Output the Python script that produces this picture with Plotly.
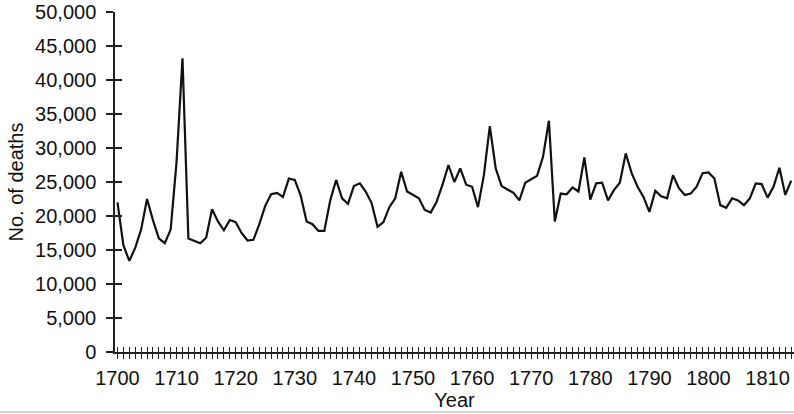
import plotly.graph_objects as go

years = list(range(1700, 1815))
deaths = [
    22000, 15700, 13400, 15300, 18000, 22500, 19400, 16700, 16000, 18000,  # 1700-1709
    28000, 43200, 16700, 16300, 16000, 16800, 21000, 19200, 17900, 19400,  # 1710-1719
    19100, 17500, 16400, 16500, 18800, 21500, 23200, 23400, 22800, 25500,  # 1720-1729
    25300, 23000, 19200, 18800, 17800, 17800, 22300, 25300, 22600, 21800,  # 1730-1739
    24400, 24800, 23600, 21900, 18400, 19100, 21300, 22600, 26500, 23600,  # 1740-1749
    23100, 22600, 20900, 20500, 22100, 24600, 27500, 25000, 27000, 24600,  # 1750-1759
    24300, 21300, 26000, 33200, 27000, 24400, 23900, 23400, 22300, 24900,  # 1760-1769
    25400, 25900, 28700, 34000, 19200, 23300, 23200, 24200, 23600, 28600,  # 1770-1779
    22400, 24800, 24900, 22300, 23800, 24900, 29200, 26300, 24300, 22800,  # 1780-1789
    20600, 23700, 22900, 22600, 26000, 24100, 23100, 23300, 24300, 26300,  # 1790-1799
    26400, 25500, 21600, 21200, 22600, 22300, 21600, 22600, 24800, 24700,  # 1800-1809
    22700, 24300, 27100, 23100, 25200,                                      # 1810-1814
]
x_tick_labels = [str(y) if y % 10 == 0 else "" for y in years]
y_ticks = list(range(0, 50001, 5000))

FONT = "Liberation Sans, Arial, Helvetica, sans-serif"
AX = "#222222"
xr = [1699.58, 1814.47]
yr = [0, 50000]

fig = go.Figure()
fig.add_trace(go.Scatter(x=years, y=deaths, mode="lines",
                         line=dict(color="#111111", width=2.2), showlegend=False,
                         hoverinfo="x+y"))
# invisible trace so the overlay axes (inner halves of the crossing ticks) exist
fig.add_trace(go.Scatter(x=years, y=deaths, xaxis="x2", yaxis="y2", mode="lines",
                         line=dict(width=0, color="rgba(0,0,0,0)"), showlegend=False,
                         hoverinfo="skip"))

fig.update_layout(
    width=794, height=414,
    margin=dict(l=115, r=0, t=12, b=62, autoexpand=False),
    paper_bgcolor="white", plot_bgcolor="white",
    font=dict(family=FONT, size=20, color="#111111"),
    xaxis=dict(range=xr, tickmode="array", tickvals=years, ticktext=x_tick_labels,
               ticks="outside", ticklen=5, tickwidth=1.3, tickcolor=AX,
               showline=True, linecolor=AX, linewidth=1.5, showgrid=False, zeroline=False,
               automargin=False,
               title=dict(text="Year", standoff=0, font=dict(size=20)),
               tickfont=dict(size=20), ticklabelstandoff=2),
    yaxis=dict(range=yr, tickmode="array", tickvals=y_ticks, tickformat=",d",
               ticks="outside", ticklen=7, tickwidth=1.5, tickcolor=AX,
               showline=True, linecolor=AX, linewidth=1.5, showgrid=False, zeroline=False,
               automargin=False,
               title=dict(text="No. of deaths", standoff=6, font=dict(size=20)),
               tickfont=dict(size=20), ticklabelstandoff=6),
    xaxis2=dict(range=xr, overlaying="x", anchor="y2", side="bottom",
                tickmode="array", tickvals=years, ticks="inside", ticklen=5,
                tickwidth=1.3, tickcolor=AX, showticklabels=False, showline=False,
                showgrid=False, zeroline=False, automargin=False),
    yaxis2=dict(range=yr, overlaying="y", anchor="x2", side="left",
                tickmode="array", tickvals=y_ticks, ticks="inside", ticklen=7,
                tickwidth=1.5, tickcolor=AX, showticklabels=False, showline=False,
                showgrid=False, zeroline=False, automargin=False),
    shapes=[dict(type="line", xref="paper", yref="paper", x0=-0.2, x1=1.05,
                 y0=-0.1765, y1=-0.1765, line=dict(color="#c4c4c4", width=1.5))],
)

fig.write_html("out.html", config={"displayModeBar": False},
               post_script="document.body.style.margin='0';document.body.style.overflow='hidden';")
